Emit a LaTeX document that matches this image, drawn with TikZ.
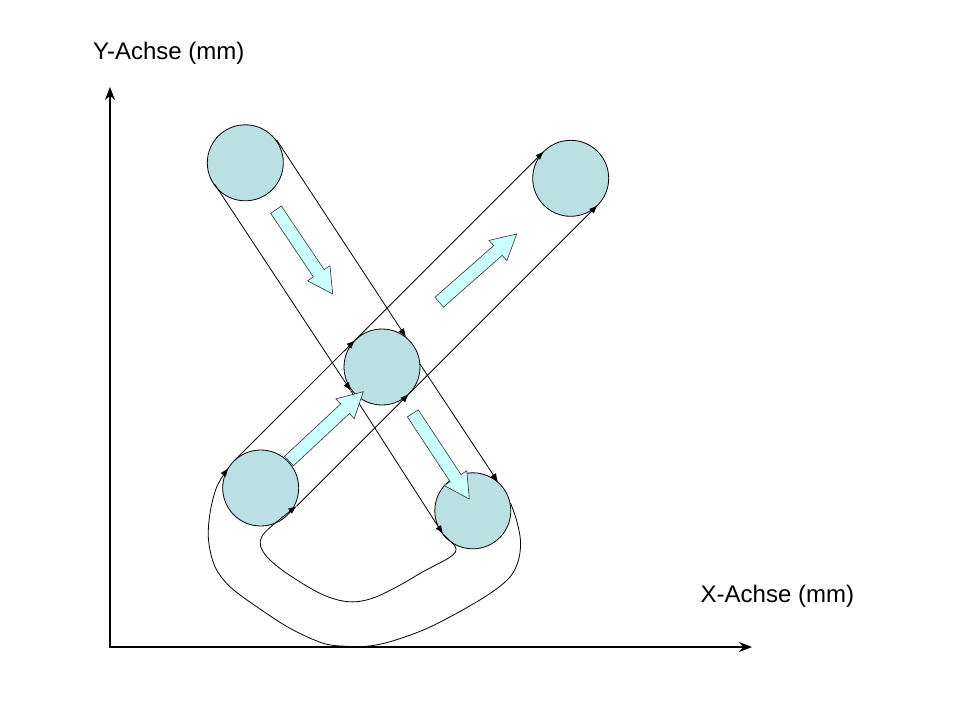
\documentclass[tikz,border=0pt]{standalone}
\usepackage{fontspec}
\setmainfont{Liberation Sans}
\usetikzlibrary{arrows.meta,calc}
\definecolor{circfill}{HTML}{BBE0E3}
\definecolor{arrfill}{HTML}{CCFFFF}
\newcommand{\flowarrow}[2]{%
  \coordinate (fb) at ($(#2)!25pt!(#1)$);
  \filldraw[flow] ($(#1)!6.5pt!90:(#2)$) -- ($(fb)!6.5pt!-90:(#1)$) -- ($(fb)!13.5pt!-90:(#1)$) -- (#2)
    -- ($(fb)!13.5pt!90:(#1)$) -- ($(fb)!6.5pt!90:(#1)$) -- ($(#1)!6.5pt!-90:(#2)$) -- cycle;}
\begin{document}
\begin{tikzpicture}[x=1pt,y=-1pt,
  roller/.style={circle, draw, line width=0.8pt, fill=circfill, minimum size=76pt, inner sep=0pt},
  belt/.style={line width=0.8pt},
  beltarr/.style={belt, -{Latex[length=8.5pt,width=6.5pt]}},
  flow/.style={draw=black!80, fill=arrfill, line width=0.6pt, line join=miter},
  axisline/.style={line width=2pt, line join=miter, {Stealth[length=13pt,width=10pt]}-{Stealth[length=13pt,width=10pt]}},
  lbl/.style={font=\fontsize{24}{28}\selectfont, inner sep=0pt, anchor=base west}]
\fill[white] (0,0) rectangle (960,720);
\path[use as bounding box] (0,0) rectangle (960,720);

% axes
\coordinate (origin) at (110,647);
\coordinate (ytip) at (110,87);
\coordinate (xtip) at (752,647);
\draw[axisline] (ytip) -- (origin) -- (xtip);
\node[lbl] (ylab) at (93,59) {Y-Achse (mm)};
\node[lbl] (xlab) at (700.5,602) {X-Achse (mm)};

% rollers
\node[roller] (c1) at (245.3,162.8) {};
\node[roller] (c2) at (570.7,178.3) {};
\node[roller] (c3) at (382,367) {};
\node[roller] (c4) at (260.7,488) {};
\node[roller] (c5) at (472.8,510.8) {};

% belt points
\coordinate (r1s) at (276.7,140);
\coordinate (r1m) at (406,337);
\coordinate (r1n) at (420,364);
\coordinate (r1e) at (498,482);
\coordinate (l1s) at (214.5,184);
\coordinate (l1m) at (351,391);
\coordinate (l1e) at (443,534);
\coordinate (o5) at (510.5,503);
\coordinate (o4) at (228.3,468);
\coordinate (u2s) at (233.8,461.1);
\coordinate (u2m) at (355.1,340.1);
\coordinate (u2e) at (543.8,151.4);
\coordinate (i4) at (296.7,506);
\coordinate (w2m) at (408.9,393.9);
\coordinate (w2e) at (597.6,205.2);

% band 1
\draw[beltarr] (r1s) -- (r1m);
\draw[beltarr] (r1n) -- (r1e);
\draw[beltarr] (l1s) -- (l1m);
\draw[beltarr] (l1m) -- (l1e);
% loops
\draw[beltarr] plot[smooth, tension=0.55] coordinates {(o5) (516.5,520) (520.5,541) (518.5,560) (510,577) (490,593.5) (456.7,613.3) (423.3,630) (390,641.7) (366.7,646.3) (346.7,646.3) (323.3,643.3) (290,628.3) (256.7,606.7) (230,586.7) (215,566.7) (208.5,540) (210,513.3) (216.7,487) (o4)};
\draw[beltarr] plot[smooth, tension=0.55] coordinates {(l1e) (449.5,540.5) (455,546) (455.5,552) (447,559) (423,571.7) (403.3,583.3) (376.7,596.7) (356.7,601.7) (338,600) (316.7,591.7) (286.7,573.3) (268,558) (260.5,546) (261.7,536.7) (270,527.5) (283.3,516.5) (i4)};
% band 2
\draw[beltarr] (u2s) -- (u2m);
\draw[beltarr] (u2m) -- (u2e);
\draw[beltarr] (i4) -- (w2m);
\draw[beltarr] (w2m) -- (w2e);

% flow arrows
\coordinate (a1t) at (276,209.7);   \coordinate (a1h) at (332.7,294);
\coordinate (a2t) at (439.2,302.2); \coordinate (a2h) at (516.7,234);
\coordinate (a3t) at (289,461);     \coordinate (a3h) at (363.3,391.7);
\coordinate (a4t) at (412.8,413.3); \coordinate (a4h) at (469.3,499);
\flowarrow{a1t}{a1h}
\flowarrow{a2t}{a2h}
\flowarrow{a3t}{a3h}
\flowarrow{a4t}{a4h}
\end{tikzpicture}
\end{document}
